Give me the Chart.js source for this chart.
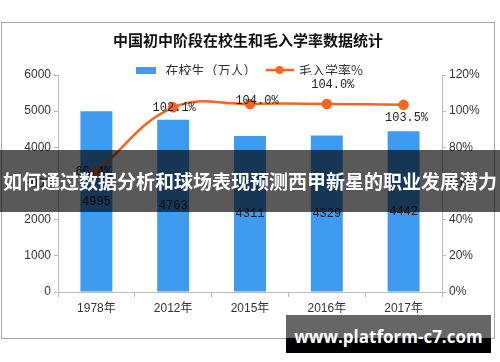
<!DOCTYPE html>
<html>
<head>
<meta charset="utf-8">
<script src="https://cdn.jsdelivr.net/npm/chart.js@4"></script>
<style>
    body { margin: 0; width: 500px; height: 362px; background: #fff; position: relative; overflow: hidden; font-family: "Noto Sans CJK SC", sans-serif; }
    #frame { position: absolute; left: 1px; top: 22px; width: 492px; height: 315px; border: 1px solid #a8a8a8; }
    #banner { position: absolute; left: 0; top: 150px; width: 500px; height: 62px; background: rgba(0, 0, 0, 0.65); color: #fff; font-weight: bold; font-size: 19px; line-height: 62px; text-align: center; white-space: nowrap; }
    #site { position: absolute; left: 286px; top: 315px; width: 205px; height: 38px; background: linear-gradient(#666 0, #666 23px, #000 23px); color: #fff; font-family: "Open Sans", sans-serif; font-weight: bold; font-size: 17px; line-height: 43px; text-align: center; white-space: nowrap; }
</style>
</head>
<body>
<div id="frame"><canvas id="myChart" width="492" height="315"></canvas></div>
<div id="banner">如何通过数据分析和球场表现预测西甲新星的职业发展潜力</div>
<div id="site">www.platform-c7.com</div>
<script>
    var years = ['1978年', '2012年', '2015年', '2016年', '2017年'];
    var students = [4995, 4763, 4311, 4329, 4442];
    var grossRate = [66.4, 102.1, 104.0, 104.0, 103.5];

    // label nudges for the rate labels (px), like the original
    var rateLabelShift = [[-3, 0], [1, 0], [7, -3], [6, -19], [3, 13]];

    var barColor = 'rgb(62, 155, 240)';
    var lineColor = 'rgb(244, 102, 31)';
    var tickFont = { family: '"Liberation Sans", "Noto Sans CJK SC"', size: 12 };
    var labelFont = '12px "Liberation Mono", monospace';

    function barSample() {
        var c = document.createElement('canvas');
        c.width = 20; c.height = 7;
        var x = c.getContext('2d');
        x.fillStyle = barColor;
        x.fillRect(0, 0, 20, 7);
        return c;
    }

    function lineSample() {
        var c = document.createElement('canvas');
        c.width = 28; c.height = 10;
        var x = c.getContext('2d');
        x.strokeStyle = lineColor;
        x.lineWidth = 2.5;
        x.beginPath(); x.moveTo(0, 5); x.lineTo(28, 5); x.stroke();
        x.fillStyle = lineColor;
        x.beginPath(); x.arc(14, 5, 4, 0, Math.PI * 2); x.fill();
        return c;
    }

    var samples = [barSample(), lineSample()];

    var valueLabels = {
        id: 'valueLabels',
        afterDatasetsDraw: function (chart) {
            var ctx = chart.ctx;
            ctx.save();
            ctx.font = labelFont;
            ctx.fillStyle = '#222';
            ctx.textAlign = 'center';
            ctx.textBaseline = 'middle';
            chart.getDatasetMeta(0).data.forEach(function (bar, i) {
                ctx.fillText(String(students[i]), bar.x, (bar.y + bar.base) / 2);
            });
            chart.getDatasetMeta(1).data.forEach(function (pt, i) {
                var s = rateLabelShift[i];
                ctx.fillText(grossRate[i].toFixed(1) + '%', pt.x + s[0], pt.y + s[1]);
            });
            ctx.restore();
        }
    };

    var data = {
        labels: years,
        datasets: [{
            type: 'bar',
            label: '在校生（万人）',
            data: students,
            backgroundColor: barColor,
            barPercentage: 0.52,
            categoryPercentage: 0.8,
            yAxisID: 'y',
            order: 2
        }, {
            type: 'line',
            label: '毛入学率%',
            data: grossRate,
            borderColor: lineColor,
            backgroundColor: lineColor,
            borderWidth: 2.5,
            tension: 0.4,
            pointRadius: 4,
            pointBackgroundColor: lineColor,
            pointBorderColor: lineColor,
            yAxisID: 'y1',
            order: 1
        }]
    };

    var option = {
        responsive: false,
        animation: false,
        layout: { padding: 0 },
        plugins: {
            title: {
                display: true,
                text: '中国初中阶段在校生和毛入学率数据统计',
                color: '#111',
                font: { family: '"Noto Sans CJK SC"', size: 15, weight: 'bold' },
                padding: { top: 8, bottom: 4.5 }
            },
            legend: {
                maxHeight: 21.5,
                labels: {
                    usePointStyle: true,
                    pointStyleWidth: 26,
                    padding: 10,
                    color: '#333',
                    font: { family: '"Noto Sans CJK SC"', size: 13 },
                    sort: function (a, b) { return a.datasetIndex - b.datasetIndex; },
                    generateLabels: function (chart) {
                        var items = Chart.defaults.plugins.legend.labels.generateLabels(chart);
                        items.forEach(function (it) { it.pointStyle = samples[it.datasetIndex]; });
                        return items;
                    }
                }
            },
            tooltip: { enabled: false }
        },
        scales: {
            x: {
                grid: { offset: true, drawOnChartArea: false, tickLength: 5, color: '#bbb' },
                border: { color: '#bbb' },
                ticks: { color: '#333', font: tickFont, padding: 4 },
                afterFit: function (s) { s.height = 46; }
            },
            y: {
                position: 'left',
                min: 0, max: 6000,
                ticks: { stepSize: 1000, color: '#333', font: tickFont, padding: 3,
                    callback: function (v) { return String(v); } },
                grid: { drawOnChartArea: false, tickLength: 4, color: '#bbb' },
                border: { color: '#bbb' },
                afterFit: function (s) { s.width = 56; }
            },
            y1: {
                position: 'right',
                min: 0, max: 120,
                ticks: { stepSize: 20, color: '#333', font: tickFont, padding: 3,
                    callback: function (v) { return v + '%'; } },
                grid: { drawOnChartArea: false, tickLength: 4, color: '#bbb' },
                border: { color: '#bbb' },
                afterFit: function (s) { s.width = 52; }
            }
        }
    };

    var myChart = new Chart(document.getElementById('myChart'), {
        data: data,
        options: option,
        plugins: [valueLabels]
    });
</script>
</body>
</html>
